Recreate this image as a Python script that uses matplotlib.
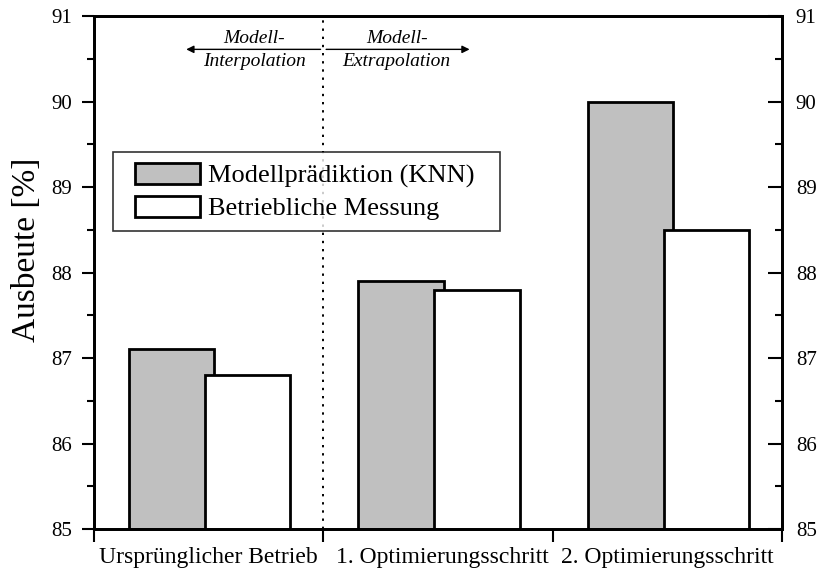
import matplotlib
matplotlib.use("Agg")
import matplotlib.pyplot as plt
from matplotlib.ticker import MultipleLocator, FixedLocator, NullFormatter
from matplotlib.patches import Patch, Rectangle
from matplotlib.legend_handler import HandlerPatch

plt.rcParams['font.family'] = ['Liberation Serif', 'DejaVu Serif']

categories = ["Ursprünglicher Betrieb", "1. Optimierungsschritt", "2. Optimierungsschritt"]
modell = [87.1, 87.9, 90.0]
messung = [86.8, 87.8, 88.5]
series_labels = ["Modellprädiktion (KNN)", "Betriebliche Messung"]
y_label = "Ausbeute [%]"

fig = plt.figure(figsize=(8.19, 5.74), dpi=100)
ax = fig.add_axes([0.1148, 0.0784, 0.8400, 0.8937])

bw = 0.372
for i in range(len(categories)):
    ax.bar(i + 0.153, modell[i] - 85, bottom=85, width=bw, align='edge',
           color='#c0c0c0', edgecolor='black', linewidth=2, zorder=2)
    ax.bar(i + 0.484, messung[i] - 85, bottom=85, width=bw, align='edge',
           color='white', edgecolor='black', linewidth=2, zorder=3)

ax.set_xlim(0, 3)
ax.set_ylim(85, 91)

ax.axvline(1, color='black', linestyle=(0, (1.2, 3)), linewidth=1.4, zorder=1)

# annotations
ay = 90.61
ax.annotate('', xy=(0.39, ay), xytext=(1.0, ay),
            arrowprops=dict(arrowstyle='-|>', color='black', lw=1, mutation_scale=11))
ax.annotate('', xy=(1.65, ay), xytext=(1.0, ay),
            arrowprops=dict(arrowstyle='-|>', color='black', lw=1, mutation_scale=11))
ax.text(0.70, 90.64, "Modell-", ha='center', va='bottom', style='italic', fontsize=14)
ax.text(0.70, 90.57, "Interpolation", ha='center', va='top', style='italic', fontsize=14)
ax.text(1.32, 90.64, "Modell-", ha='center', va='bottom', style='italic', fontsize=14)
ax.text(1.32, 90.57, "Extrapolation", ha='center', va='top', style='italic', fontsize=14)

# y axis ticks (left, outward)
ax.yaxis.set_major_locator(MultipleLocator(1))
ax.yaxis.set_minor_locator(MultipleLocator(0.5))
ax.tick_params(axis='y', which='major', direction='out', length=9, width=1.5,
               left=True, right=False, labelsize=15, pad=7)
ax.tick_params(axis='y', which='minor', direction='out', length=5, width=1.5,
               left=True, right=False)

# right axis (inward ticks)
ax2 = ax.twinx()
ax2.set_ylim(85, 91)
ax2.yaxis.set_major_locator(MultipleLocator(1))
ax2.yaxis.set_minor_locator(MultipleLocator(0.5))
ax2.tick_params(axis='y', which='major', direction='in', length=10, width=1.5,
                labelsize=15, pad=10)
ax2.tick_params(axis='y', which='minor', direction='in', length=5, width=1.5)

# x axis ticks
ax.xaxis.set_major_locator(FixedLocator([0, 1, 2, 3]))
ax.xaxis.set_major_formatter(NullFormatter())
ax.xaxis.set_minor_locator(FixedLocator([0.5, 1.52, 2.5]))
ax.set_xticklabels(categories, minor=True)
ax.tick_params(axis='x', which='major', direction='out', length=9, width=1.5)
ax.tick_params(axis='x', which='minor', length=0, labelsize=17, pad=13)

for a in (ax, ax2):
    for s in a.spines.values():
        s.set_linewidth(2)

ax.set_ylabel(y_label, fontsize=24)
ax.yaxis.set_label_coords(-0.075, 0.544)


def shifted_rect(legend, orig_handle, xdescent, ydescent, width, height, fontsize):
    shift = 8
    return Rectangle((-xdescent + shift, -ydescent), width - shift, height)


handles = [Patch(facecolor='#c0c0c0', edgecolor='black', linewidth=2),
           Patch(facecolor='white', edgecolor='black', linewidth=2)]
hm = {h: HandlerPatch(patch_func=shifted_rect) for h in handles}
leg = ax.legend(handles, series_labels, loc='upper left',
                bbox_to_anchor=(0.0276, 0.5, 0.5625, 0.235), mode='expand',
                borderaxespad=0, fontsize=19, frameon=True, fancybox=False,
                handlelength=2.9, handleheight=0.85, handletextpad=0.3,
                labelspacing=0.3, borderpad=0.4, handler_map=hm)
leg.get_frame().set_edgecolor('black')
leg.get_frame().set_linewidth(1.2)
leg.set_zorder(5)

fig.savefig("out.png", dpi=100)
